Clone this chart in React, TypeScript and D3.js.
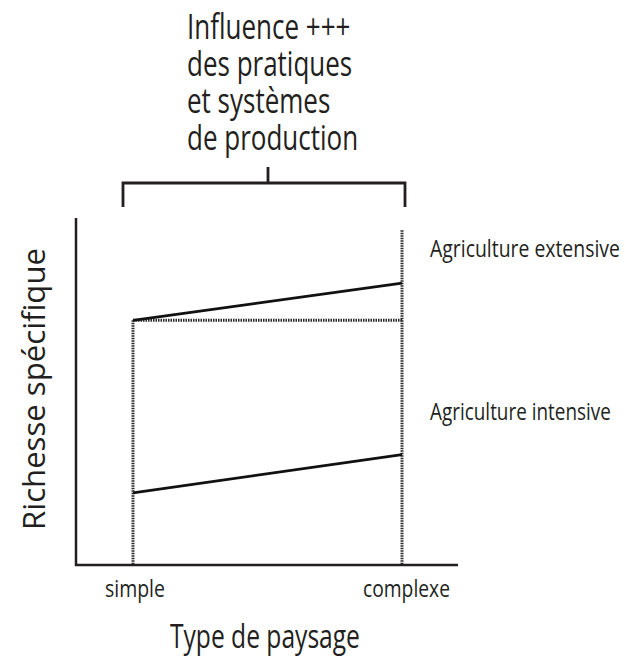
import * as React from 'react';
import {useEffect, useRef} from 'react';
import * as d3 from 'd3';

// Landscape type (x) and species richness per farming system (y, 0-100 arbitrary units)
const landscapes = ['simple', 'complexe'];
const extensive = [70.5, 81.2];
const intensive = [20.8, 31.8];
const seriesLabels = ['Agriculture extensive', 'Agriculture intensive'];
const titleLines = ['Influence +++', 'des pratiques', 'et systèmes', 'de production'];
const yLabel = 'Richesse spécifique';
const xLabel = 'Type de paysage';

const WIDTH = 625;
const HEIGHT = 657;
const FONT = '"Open Sans", "Noto Sans", sans-serif';
const INK = '#231f20';

export default function App() {
  const ref = useRef<SVGSVGElement>(null);

  useEffect(() => {
    const svg = d3.select(ref.current);
    svg.selectAll('*').remove();

    const axisLeft = 76, axisRight = 458, axisBottom = 565, axisTop = 218;

    const x = d3.scalePoint<string>().domain(landscapes).range([133, 402]);
    const y = d3.scaleLinear().domain([0, 100]).range([axisBottom, axisTop]);

    const g = svg.append('g');

    // axes (plain, no ticks)
    g.append('path')
      .attr('d', `M${axisLeft},${axisTop}V${axisBottom}H${axisRight}`)
      .attr('fill', 'none')
      .attr('stroke', INK)
      .attr('stroke-width', 2.5);

    // dotted guides
    const dotted = (sel: any) => sel
      .attr('stroke', '#2a2a2a')
      .attr('stroke-width', 3)
      .attr('stroke-dasharray', '1.5,1')
      .attr('fill', 'none');

    const xs = x(landscapes[0])!, xc = x(landscapes[1])!;
    g.append('line').call(dotted)
      .attr('x1', xs).attr('x2', xs)
      .attr('y1', y(extensive[0])).attr('y2', axisBottom);
    g.append('line').call(dotted)
      .attr('x1', xc).attr('x2', xc)
      .attr('y1', y(96.5)).attr('y2', axisBottom);
    g.append('line').call(dotted)
      .attr('x1', xs).attr('x2', xc)
      .attr('y1', y(extensive[0])).attr('y2', y(extensive[0]));

    // series lines
    const line = d3.line<number>()
      .x((_, i) => x(landscapes[i])!)
      .y(d => y(d));

    [extensive, intensive].forEach(s => {
      g.append('path')
        .datum(s)
        .attr('d', line)
        .attr('fill', 'none')
        .attr('stroke', '#111')
        .attr('stroke-width', 2.8);
    });

    // condensed text: squeeze horizontally to the width measured on the reference
    const text = (t: string, px: number, py: number, size: number, len: number) => {
      const el = g.append('text')
        .attr('font-family', FONT)
        .attr('font-size', size)
        .attr('fill', INK)
        .text(t);
      const w = (el.node() as SVGTextElement).getComputedTextLength();
      el.attr('transform', `translate(${px},${py}) scale(${len / w},1)`);
      return el;
    };

    // series labels at the right
    text(seriesLabels[0], 430, 257, 24, 190);
    text(seriesLabels[1], 430, 420, 24, 181);

    // category labels
    text(landscapes[0], 105, 597, 23, 60);
    text(landscapes[1], 363, 597, 23, 87);
    text(xLabel, 170, 648, 33, 190);

    // y label
    const yl = g.append('text')
      .attr('text-anchor', 'middle')
      .attr('font-family', FONT)
      .attr('font-size', 31)
      .attr('fill', INK)
      .text(yLabel);
    const yw = (yl.node() as SVGTextElement).getComputedTextLength();
    yl.attr('transform', `translate(45,389) rotate(-90) scale(${282 / yw},1)`);

    // bracket above the chart
    const bl = 123, br = 405, by = 183, bmid = 268;
    g.append('path')
      .attr('d', `M${bl},207V${by}H${br}V207M${bmid},${by}V167`)
      .attr('fill', 'none')
      .attr('stroke', INK)
      .attr('stroke-width', 2.8);

    // title block, one text with a tspan per line
    const title = g.append('text')
      .attr('font-family', FONT)
      .attr('font-size', 34)
      .attr('fill', INK)
      .attr('transform', 'translate(187,39) scale(0.765,1)');
    titleLines.forEach((t, i) => {
      title.append('tspan')
        .attr('x', 0)
        .attr('y', i * 37)
        .text(t);
    });
  }, []);

  return (
    <svg ref={ref} width={WIDTH} height={HEIGHT}
      style={{display: 'block', position: 'absolute', left: 0, top: 0, background: '#fff'}}/>
  );
}
